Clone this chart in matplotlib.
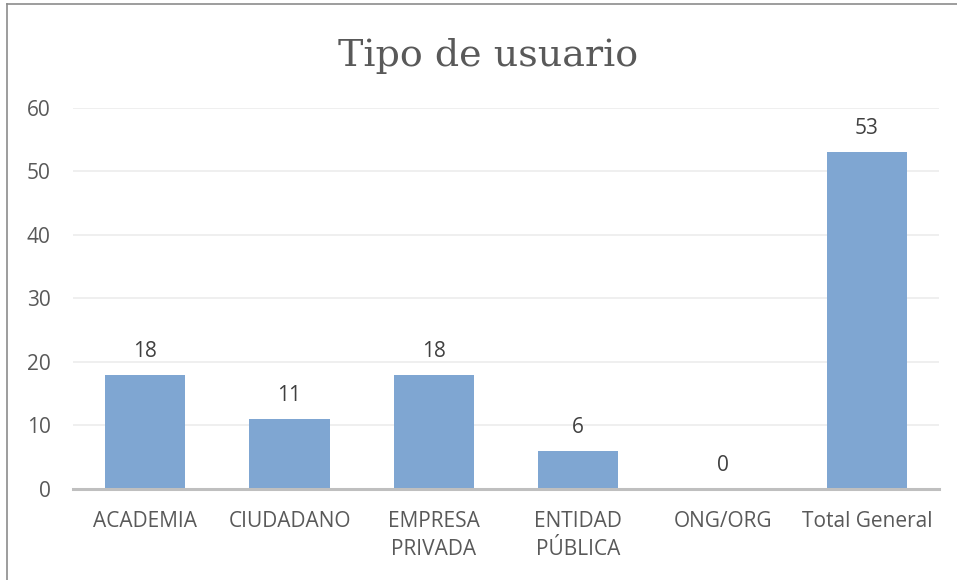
import matplotlib.pyplot as plt
from matplotlib.lines import Line2D

categories = ["ACADEMIA", "CIUDADANO", "EMPRESA\nPRIVADA", "ENTIDAD\nPÚBLICA",
              "ONG/ORG", "Total General"]
values = [18, 11, 18, 6, 0, 53]
yticks = [0, 10, 20, 30, 40, 50, 60]

BAR_COLOR = "#7fa6d2"
TEXT_COLOR = "#595959"
LABEL_COLOR = "#404040"
GRID_COLOR = "#ececec"
AXIS_COLOR = "#bfbfbf"
FS = 15

fig = plt.figure(figsize=(9.57, 5.80), dpi=100)
ax = fig.add_axes([0.0763, 0.1569, 0.9050, 0.6569])

x = range(len(categories))
bars = ax.bar(x, values, width=0.555, color=BAR_COLOR, zorder=3)

for rect, v in zip(bars, values):
    ax.annotate(str(v), (rect.get_x() + rect.get_width() / 2, v),
                xytext=(0, 17), textcoords="offset points",
                ha="center", va="center", fontsize=FS,
                color=LABEL_COLOR, family="Open Sans")

ax.set_xlim(-0.5, len(categories) - 0.5)
ax.set_ylim(0, 60)
ax.set_yticks(yticks)
ax.set_xticks(list(x))
ax.set_xticklabels(categories, family="Open Sans", fontsize=FS,
                   color=TEXT_COLOR, linespacing=1.45)
for lbl in ax.get_yticklabels():
    lbl.set_family("Open Sans")
    lbl.set_fontsize(FS)
    lbl.set_color(TEXT_COLOR)

ax.tick_params(axis="both", length=0)
ax.tick_params(axis="x", pad=16)
ax.tick_params(axis="y", pad=16)

ax.grid(axis="y", color=GRID_COLOR, linewidth=1.2, zorder=0)
for side in ("top", "right", "left"):
    ax.spines[side].set_visible(False)
ax.spines["bottom"].set_color(AXIS_COLOR)
ax.spines["bottom"].set_linewidth(2.2)
ax.spines["bottom"].set_zorder(4)

fig.text(0.510, 0.903, "Tipo de usuario", ha="center", va="center",
         fontsize=27.4, color=TEXT_COLOR, family="DejaVu Serif")

# chart frame (only top and left edges visible in the crop)
fig.add_artist(Line2D([0.0073, 1.0], [0.993, 0.993], transform=fig.transFigure,
                      color="#8c8c8c", linewidth=1.2))
fig.add_artist(Line2D([0.0073, 0.0073], [0.0, 0.993], transform=fig.transFigure,
                      color="#8c8c8c", linewidth=1.2))

fig.savefig("out.png", dpi=100, facecolor="white")
